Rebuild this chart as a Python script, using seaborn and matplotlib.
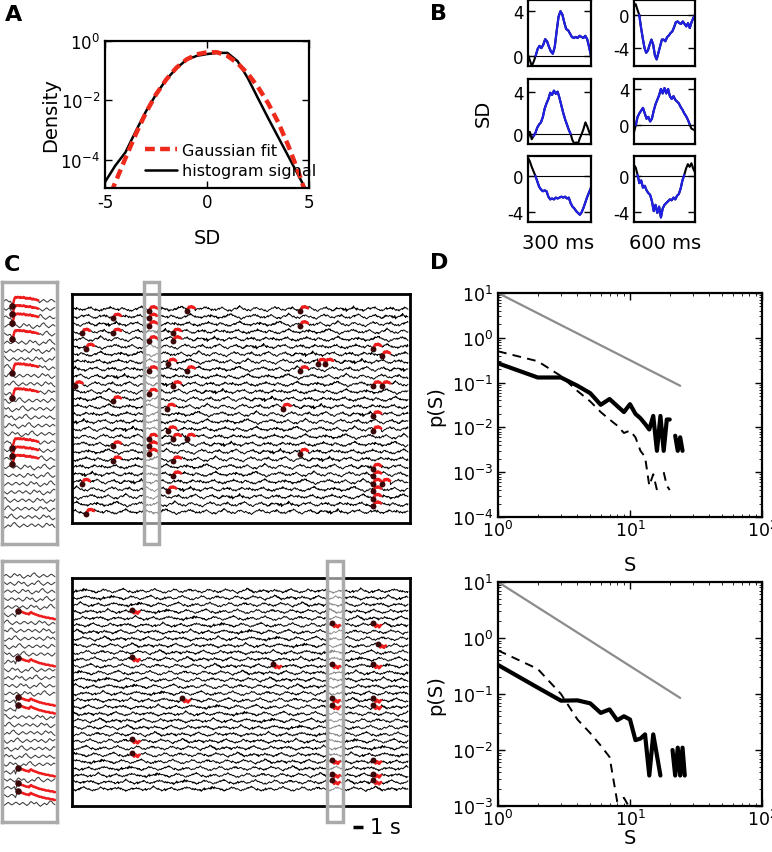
import numpy as np
import pandas as pd
import matplotlib
matplotlib.use("Agg")
import matplotlib.pyplot as plt
import seaborn as sns
from matplotlib.patches import Rectangle
from matplotlib.transforms import blended_transform_factory

# ---------------- data ----------------
# Panel A: log10 density
A_x_fit = [-4.7, -4.0, -3.5, -3.0, -2.5, -2.0, -1.5, -1.0, -0.5, 0.0, 0.5, 1.0, 1.5, 2.0, 2.5, 3.0, 3.5, 4.0, 4.5, 4.8]
A_log_fit = [-5.1, -3.95, -3.15, -2.42, -1.8, -1.3, -0.9, -0.62, -0.45, -0.38, -0.38, -0.5, -0.75, -1.1, -1.55, -2.1, -2.75, -3.55, -4.45, -5.05]
A_x_hist = [-5.0, -4.5, -4.0, -3.5, -3.0, -2.5, -2.0, -1.5, -1.0, -0.5, 0.0, 0.5, 1.0, 1.5, 2.0, 2.5, 3.0, 3.5, 4.0, 4.5, 5.0]
A_log_hist = [-4.75, -4.2, -3.75, -3.05, -2.38, -1.8, -1.3, -0.92, -0.63, -0.5, -0.44, -0.4, -0.4, -0.68, -1.25, -1.93, -2.6, -3.25, -3.9, -4.55, -5.2]

# Panel B: example avalanche traces (SD units), blue = supra-threshold part
B_r1c1 = [0.1, -0.4, -0.9, -0.5, 0.0, 0.6, 0.9, 0.7, 1.0, 1.5, 1.3, 0.8, 0.4, 0.2, 0.8, 2.2, 3.5, 4.0, 3.7, 3.0, 2.4, 2.3, 2.0, 1.7, 1.6, 1.7, 1.6, 1.8, 1.7, 1.6, 1.8, 1.5, 0.8, 0.0]
B_r1c2 = [1.0, 1.3, 0.6, 0.0, -1.5, -2.8, -4.0, -4.6, -4.3, -3.6, -3.0, -3.6, -4.9, -5.4, -4.6, -3.8, -3.0, -3.0, -3.2, -2.7, -2.5, -2.2, -2.0, -1.5, -0.9, -0.8, -1.0, -1.1, -0.8, -1.1, -1.4, -1.0, -1.6, -0.9, -0.4, 0.0]
B_r2c1 = [-0.4, 0.2, -0.5, -0.2, 0.1, 0.6, 0.9, 1.1, 1.6, 2.4, 2.9, 3.3, 3.9, 3.7, 4.1, 3.8, 4.0, 3.4, 2.7, 2.0, 1.4, 0.9, 0.4, 0.0, -0.6, -0.9, -0.8, -0.9, -0.4, 0.0, 0.5, 1.1, 0.7, 0.2, -0.2]
B_r2c2 = [-0.8, 0.0, 0.9, 1.3, 1.6, 1.9, 1.3, 0.7, 0.9, 0.4, 0.7, 1.6, 2.3, 2.8, 3.3, 4.0, 3.5, 4.1, 3.5, 4.0, 3.2, 2.9, 3.2, 2.8, 2.6, 2.4, 2.0, 1.7, 1.3, 1.0, 0.6, 0.1, -0.4, -0.5, -0.6]
B_r3c1 = [2.0, 1.6, 1.0, 0.5, 0.0, -0.6, -1.2, -1.5, -1.7, -1.6, -1.7, -2.3, -2.6, -2.5, -2.6, -2.4, -2.5, -2.4, -2.3, -2.4, -2.3, -2.5, -2.4, -3.0, -3.4, -3.6, -3.9, -4.1, -4.3, -4.0, -3.5, -2.9, -2.3, -1.8, -1.3]
B_r3c2 = [1.2, 0.9, 0.1, -0.8, -0.5, -1.3, -1.1, -1.6, -1.9, -2.1, -2.8, -3.9, -3.2, -4.1, -3.4, -4.6, -3.6, -3.2, -3.0, -2.8, -2.6, -2.7, -2.4, -2.6, -2.2, -2.0, -1.4, -0.5, 0.1, 0.8, 1.3, 1.0, 1.4, 0.8, 0.4]
B_blue_ranges = [(4, 33), (3, 35), (3, 23), (1, 31), (4, 34), (2, 28)]
B_yticks = [[0, 4], [-4, 0], [0, 4], [0, 4], [-4, 0], [-4, 0]]
B_ylims = [(-0.9, 5.0), (-6.2, 1.8), (-0.95, 5.2), (-2.1, 5.1), (-5.1, 2.2), (-5.1, 2.2)]

# Panel C: typed signal fluctuation pattern (arbitrary units), reused per channel
C_noise = [
    0, 3, 1, 4, 2, -1, 1, -2, -4, -1, -3, 0, 2, 5, 3, 6, 2, 0, -2, 1,
    -1, -4, -6, -3, -5, -2, 0, -1, 2, 1, 4, 7, 4, 2, 3, 0, -2, -1, -4, -2,
    1, 3, 0, 2, -1, -3, -1, -5, -3, -6, -4, -1, 1, -2, 0, 3, 5, 8, 6, 3,
    1, 2, -1, 0, -3, -2, -5, -3, -1, 1, -1, 2, 4, 2, 5, 3, 0, -2, 0, -3,
    -6, -4, -2, -3, 0, 2, 1, 3, 6, 4, 7, 5, 2, 3, 0, -1, -3, -1, -4, -7,
    -5, -2, -4, -1, 1, 0, 2, -1, 1, 4, 3, 6, 2, 4, 1, -2, 0, -3, -1, -4,
    -2, 1, -1, 2, 5, 3, 1, -1, -3, -5, -2, -4, -6, -3, 0, 2, 0, 3, 6, 9,
    5, 2, -1, 1, -2, -4, -1, -3, -5, -2, 0, 3, 1, 4, 2, 0, -2, 1, -1, -3,
    -2, -5, -7, -4, -1, 0, 3, 2, 5, 3, 1, 4, 2, -1, -3, 0, -2, -4, -1, 1,
    3, 1, 4, 6, 3, 0, -2, -1, -4, -2, -5, -3, 0, 1, -1, 2, 4, 7, 5, 2,
    0, -3, -1, -4, -6, -3, -1, 1, 0, 3, 2, 5, 1, -1, 1, -2, -5, -3, -1, 2,
    4, 2, 0, 3, 1, -2, -4, -2, -6, -4, -1, 0, 2, 5, 8, 4, 1, 3, 0, -2,
    -1, -3, -6, -4, -2, 1, 3, 1, -1, 2, 4, 3, 6, 2, 0, -1, -4, -2, -5, -3,
    0, 2, -1, 1, 3, 5, 2, 4, 1, -2, -1, -3, -5, -2, 0, -1, 1, 3, 2, 0,
]
C_inset_noise = [0, 1, 2, 1, 0, -1, -2, -1, 0, 2, 3, 2, 1, 0, 1, 2, 1, -1, -2, -3,
                 -2, -1, 0, 1, 0, -1, 0, 2, 3, 4, 3, 1, 0, -1, -2, -1, 0, 1, 2, 1,
                 0, -1, -1, 0, 1, 2, 2, 1, 0, -1]
C_top_ev_t = [7.6, 7.6, 7.6, 7.6, 7.6, 7.6, 7.6, 7.6, 7.6,
              4.0, 4.0, 4.0, 4.0, 4.0, 0.9, 0.9, 1.3, 1.3, 0.2,
              11.4, 11.4, 11.4, 10.0, 10.0, 10.0, 10.0, 10.0, 10.0,
              9.5, 9.5, 9.5, 9.4, 22.7, 22.7, 22.7, 22.7, 21.0, 24.5, 25.2,
              30.0, 30.0, 30.0, 30.0, 30.0, 30.0, 30.0, 30.0, 30.0, 30.0,
              30.9, 30.9, 30.9]
C_top_ev_row = [0, 1, 2, 4, 8, 11, 17, 18, 19,
                1, 3, 12, 18, 20, 3, 23, 5, 27, 10,
                0, 8, 17, 3, 4, 10, 17, 20, 22,
                7, 16, 24, 13, 0, 2, 8, 19, 13, 7, 7,
                5, 10, 14, 16, 21, 22, 23, 24, 25, 26,
                6, 10, 23]
C_bot_ev_t = [5.9, 5.9, 5.9, 5.9, 10.9, 20.0,
              25.9, 25.9, 25.9, 25.9, 25.9, 25.9, 25.9,
              30.0, 30.0, 30.0, 30.0, 30.0, 30.0, 30.0, 30.5]
C_bot_ev_row = [3, 10, 22, 24, 16, 11,
                5, 11, 16, 17, 25, 27, 28,
                5, 11, 16, 17, 25, 27, 28, 8]
C_top_inset_rows = [0, 1, 2, 4, 8, 11, 17, 18, 19]
C_bot_inset_rows = [5, 11, 16, 17, 25, 27, 28]
C_top_wave = [-5, -3, 1, 4, 6, 5, 4, 6, 7, 5, 4, 5, 3, 2]
C_bot_wave = [5, 3, 0, -2, -5, -2, 1, 0, -2, -5, -6, -3, -1, 0]
C_top_inset_pre = [0, -2]
C_top_inset_wave = [-6, -2, 3, 5, 4, 5, 5, 4, 5, 4, 4, 5, 4, 3, 4, 3, 3, 4, 3, 2, 3, 2, 2, 2, 1, 1]
C_bot_inset_pre = [-2, 2]
C_bot_inset_wave = [6, 7, 6, 5, 4, 4, 3, 3, 2, 2, 2, 1, 3, 4, 3, 2, 2, 1, 1, 0, 0, -1, -1, -1,
                    -2, -2, -2, -3, -3, -3, -3, -4, -4, -4, -4, -5, -5]
C_top_window = (7.1, 8.6)
C_bot_window = (25.4, 27.0)

# Panel D: avalanche size distributions
nan = np.nan
D_S_top = list(range(1, 26))
D_top_solid = [0.27, 0.13, 0.13, 0.085, 0.058, 0.032, 0.043, 0.03, 0.022, 0.033, 0.02, 0.016, 0.012,
               0.009, 0.018, 0.003, 0.018, 0.003, 0.015, 0.015, nan, 0.0065, 0.003, 0.006, 0.003]
D_S_top_dash = list(range(1, 21))
D_top_dashed = [0.5, 0.3, 0.14, 0.065, 0.038, 0.022, 0.015, 0.011, 0.0075, 0.0085, 0.006, 0.003, 0.0022,
                0.0005, 0.0009, 0.0004, nan, 0.001, 0.0005, 0.0004]
D_S_bot = list(range(1, 27))
D_bot_solid = [0.33, 0.13, 0.076, 0.077, 0.068, 0.046, 0.053, 0.034, 0.04, 0.035, 0.015, 0.016, 0.019,
               0.0035, 0.019, 0.008, 0.0035, nan, nan, nan, 0.01, 0.0035, 0.011, 0.0035, 0.011, 0.0035]
D_S_bot_dash = list(range(1, 11))
D_bot_dashed = [0.6, 0.28, 0.1, 0.035, 0.02, 0.012, 0.0075, 0.0012, 0.0014, 0.0009]
D_ref_S = [1, 24]
D_ref_p = [10, 0.085]

# ---------------- style ----------------
W, H = 772, 853
sns.set_style("ticks")
plt.rcParams.update({
    "font.family": ["DejaVu Sans"],
    "axes.unicode_minus": False,
    "text.color": "black", "axes.labelcolor": "black",
    "xtick.labelcolor": "black", "ytick.labelcolor": "black",
    "xtick.direction": "in", "ytick.direction": "in",
    "xtick.top": True, "ytick.right": True,
    "axes.linewidth": 1.6,
    "xtick.major.size": 5, "ytick.major.size": 5,
    "xtick.minor.size": 2.5, "ytick.minor.size": 2.5,
    "xtick.major.width": 1.0, "ytick.major.width": 1.0,
    "xtick.color": "black", "ytick.color": "black",
    "axes.edgecolor": "black",
})
fig = plt.figure(figsize=(W / 100, H / 100), dpi=100)


def axpx(x0, y0, x1, y1):
    return fig.add_axes([x0 / W, 1 - y1 / H, (x1 - x0) / W, (y1 - y0) / H])


def ftxt(x, y, s, **kw):
    fig.text(x / W, 1 - y / H, s, **kw)


# ---------------- Panel A ----------------
axA = axpx(105, 42, 309, 189)
sns.lineplot(x=A_x_hist, y=10 ** np.array(A_log_hist), ax=axA, color="black", lw=1.8,
             label="histogram signal", sort=False)
sns.lineplot(x=A_x_fit, y=10 ** np.array(A_log_fit), ax=axA, color="#ee2a1b", lw=3.2,
             label="Gaussian fit", sort=False)
axA.lines[-1].set_dashes([2.2, 1.2])
axA.set_yscale("log")
axA.set_xlim(-5, 5)
axA.set_ylim(10 ** -4.95, 1.0)
axA.set_xticks([-5, 0, 5])
axA.set_yticks([1, 1e-2, 1e-4])
axA.tick_params(labelsize=12)
axA.set_xlabel("SD", fontsize=14)
axA.set_ylabel("Density", fontsize=14)
axA.xaxis.set_label_coords(0.5, -0.27)
axA.yaxis.set_label_coords(-0.22, 0.5)
h, l = axA.get_legend_handles_labels()
axA.legend([h[1], h[0]], [l[1], l[0]], loc="lower left", bbox_to_anchor=(0.15, 0.0),
           frameon=False, fontsize=11.5, handlelength=2.0, handletextpad=0.3,
           labelspacing=0.35, borderaxespad=0.2)

# ---------------- Panel B ----------------
B_data = [B_r1c1, B_r1c2, B_r2c1, B_r2c2, B_r3c1, B_r3c2]
B_pos = [(528, 1, 591, 67), (634, 1, 695, 67), (528, 80, 591, 145),
         (634, 80, 695, 145), (528, 157, 591, 223), (634, 157, 695, 223)]
for vals, pos, (b0, b1), yt, yl in zip(B_data, B_pos, B_blue_ranges, B_yticks, B_ylims):
    ax = axpx(*pos)
    v = np.asarray(vals, float)
    x = np.linspace(0, 1, len(v))
    ax.axhline(0, color="black", lw=0.8)
    sns.lineplot(x=x, y=v, ax=ax, color="black", lw=1.5, sort=False)
    sns.lineplot(x=x[b0:b1 + 1], y=v[b0:b1 + 1], ax=ax, color="#1f1fe6", lw=1.6, sort=False)
    ax.set_xlim(0, 1)
    ax.set_ylim(*yl)
    ax.set_yticks(yt)
    ax.set_xticks([])
    ax.tick_params(axis="y", labelsize=12, pad=3)
ftxt(483, 113, "SD", fontsize=14, rotation=90, ha="center", va="center")
ftxt(558, 244, "300 ms", fontsize=14, ha="center", va="center")
ftxt(665, 244, "600 ms", fontsize=14, ha="center", va="center")


# ---------------- Panel C ----------------
def channel(base, r, step, off):
    b = np.asarray(base, float)
    n1 = np.roll(b, off + step * r)
    n2 = np.roll(b, off + step * r + 137)
    out = np.empty(2 * len(b))
    out[0::2] = n1
    out[1::2] = 0.6 * n1 + 0.5 * n2
    return out


def draw_block(main_pos, in_pos, nrows, base, step, off, ev_t, ev_r, wave,
               ylim_main, in_rows, in_idx, in_pre, in_wave, in_step, ylim_in, window):
    axm = axpx(*main_pos)
    axi = axpx(*in_pos)
    amp = 0.052
    rows = [channel(base, r, step, off) for r in range(nrows)]
    t = np.linspace(0, 33.5, len(rows[0]))
    L = len(wave)
    ev_idx = []
    for tt, r in zip(ev_t, ev_r):
        i = int(np.argmin(np.abs(t - tt)))
        seg = rows[r][i:i + L]
        rows[r][i:i + L] = np.asarray(wave, float)[:len(seg)]
        ev_idx.append((r, i))
    df = pd.DataFrame({"t": np.tile(t, nrows),
                       "y": np.concatenate([r - amp * rows[r] for r in range(nrows)]),
                       "row": np.repeat(np.arange(nrows), len(t))})
    sns.lineplot(data=df, x="t", y="y", units="row", estimator=None, color="black",
                 lw=0.7, ax=axm, sort=False, legend=False)
    red = []
    dots = []
    for k, (r, i) in enumerate(ev_idx):
        tt = t[i:i + L]
        yy = r - amp * rows[r][i:i + L]
        red.append(pd.DataFrame({"t": tt, "y": yy, "ev": k}))
        dots.append((t[i], r - amp * rows[r][i]))
    red = pd.concat(red)
    sns.lineplot(data=red, x="t", y="y", units="ev", estimator=None, color="#ee1c1c",
                 lw=2.0, ax=axm, sort=False, legend=False, zorder=4)
    dots = np.array(dots)
    sns.scatterplot(x=dots[:, 0], y=dots[:, 1], ax=axm, color="#3a0808", s=18,
                    linewidth=0, zorder=4.5, legend=False)
    axm.set_xlim(-0.1, 33.7)
    axm.set_ylim(*ylim_main)
    axm.set_xticks([]); axm.set_yticks([])
    axm.set_xlabel(""); axm.set_ylabel("")
    for s in axm.spines.values():
        s.set_linewidth(2.0)

    # inset
    ti = np.linspace(0, 1, len(C_inset_noise))
    irows = [np.roll(np.asarray(C_inset_noise, float), in_step * r) for r in range(nrows)]
    iamp = 0.1
    ired = []
    idots = []
    for k, r in enumerate(in_rows):
        irows[r][in_idx - len(in_pre):in_idx] = in_pre
        irows[r][in_idx:in_idx + len(in_wave)] = in_wave
        ired.append(pd.DataFrame({"t": ti[in_idx:in_idx + len(in_wave)],
                                  "y": r - iamp * irows[r][in_idx:in_idx + len(in_wave)],
                                  "ev": k}))
        idots.append((ti[in_idx], r - iamp * irows[r][in_idx]))
    dfi = pd.DataFrame({"t": np.tile(ti, nrows),
                        "y": np.concatenate([r - iamp * irows[r] for r in range(nrows)]),
                        "row": np.repeat(np.arange(nrows), len(ti))})
    sns.lineplot(data=dfi, x="t", y="y", units="row", estimator=None, color="#3c3c3c",
                 lw=0.75, ax=axi, sort=False, legend=False)
    sns.lineplot(data=pd.concat(ired), x="t", y="y", units="ev", estimator=None,
                 color="#ee1c1c", lw=1.8, ax=axi, sort=False, legend=False, zorder=4)
    idots = np.array(idots)
    sns.scatterplot(x=idots[:, 0], y=idots[:, 1], ax=axi, color="#3a0808", s=22,
                    linewidth=0, zorder=5, legend=False)
    axi.set_xlim(-0.04, 1.04)
    axi.set_ylim(*ylim_in)
    axi.set_xticks([]); axi.set_yticks([])
    axi.set_xlabel(""); axi.set_ylabel("")
    for s in axi.spines.values():
        s.set_linewidth(2.5)
        s.set_color("#aaaaaa")

    # highlight window
    trans = blended_transform_factory(axm.transData, fig.transFigure)
    p = axi.get_position()
    axm.add_patch(Rectangle((window[0], p.y0), window[1] - window[0], p.height,
                            transform=trans, facecolor="white", alpha=0.55,
                            edgecolor="none", clip_on=False, zorder=3))
    axm.add_patch(Rectangle((window[0], p.y0), window[1] - window[0], p.height,
                            transform=trans, fill=False, edgecolor="#aaaaaa",
                            lw=2.5, clip_on=False, zorder=5))
    return axm


draw_block((72, 295, 410, 524), (2, 283, 57, 545), 28, C_noise, 41, 0,
           C_top_ev_t, C_top_ev_row, C_top_wave, (28.5, -2.0),
           C_top_inset_rows, 8, C_top_inset_pre, C_top_inset_wave, 3, (29.2, -2.3),
           C_top_window)
axCb = draw_block((72, 579, 410, 807), (2, 562, 57, 823), 30, C_noise[::-1], 23, 100,
                  C_bot_ev_t, C_bot_ev_row, C_bot_wave, (31.5, -1.9),
                  C_bot_inset_rows, 13, C_bot_inset_pre, C_bot_inset_wave, 4, (31.3, -1.9),
                  C_bot_window)
# scale bar 1 s
tb = blended_transform_factory(axCb.transData, fig.transFigure)
axCb.plot([28.0, 29.0], [1 - 828 / H, 1 - 828 / H], transform=tb, color="black",
          lw=2.5, clip_on=False, solid_capstyle="butt")
axCb.text(29.7, 1 - 828 / H, "1 s", transform=tb, fontsize=15, ha="left", va="center")


# ---------------- Panel D ----------------
def seg_lineplot(ax, S, p, **kw):
    S = np.asarray(S, float)
    p = np.asarray(p, float)
    seg = np.cumsum(np.isnan(p))
    m = ~np.isnan(p)
    n0 = len(ax.lines)
    sns.lineplot(x=S[m], y=p[m], units=seg[m], estimator=None, ax=ax, sort=False,
                 legend=False, **kw)
    return ax.lines[n0:]


def panel_D(pos, S, solid, Sd, dashed, ylim, yticks, xlabel_y):
    ax = axpx(*pos)
    sns.lineplot(x=D_ref_S, y=D_ref_p, ax=ax, color="#8c8c8c", lw=1.6, legend=False)
    for ln in seg_lineplot(ax, Sd, dashed, color="black", lw=1.4):
        ln.set_dashes([4.5, 3.2])
    seg_lineplot(ax, S, solid, color="black", lw=3.0)
    ax.set_xscale("log")
    ax.set_yscale("log")
    ax.set_xlim(1, 100)
    ax.set_ylim(*ylim)
    ax.set_xticks([1, 10, 100])
    ax.set_yticks(yticks)
    ax.tick_params(which="both", labelsize=12.5)
    ax.tick_params(axis="x", pad=2)
    ax.set_xlabel("S", fontsize=14)
    ax.set_ylabel("p(S)", fontsize=14)
    ax.xaxis.set_label_coords(0.5, xlabel_y)
    ax.yaxis.set_label_coords(-0.2, 0.5)
    return ax


panel_D((498, 294, 762, 518), D_S_top, D_top_solid, D_S_top_dash, D_top_dashed,
        (1e-4, 10), [1e-4, 1e-3, 1e-2, 1e-1, 1, 10], -0.17)
panel_D((498, 583, 762, 807), D_S_bot, D_bot_solid, D_S_bot_dash, D_bot_dashed,
        (1e-3, 10), [1e-3, 1e-2, 1e-1, 1, 10], -0.1)

# panel letters
for (x, y), s in zip([(14, 15), (439, 14), (12, 265), (439, 263)], ["A", "B", "C", "D"]):
    ftxt(x, y, s, fontsize=16, fontweight="bold", ha="center", va="center")

fig.savefig("out.png", dpi=100)
